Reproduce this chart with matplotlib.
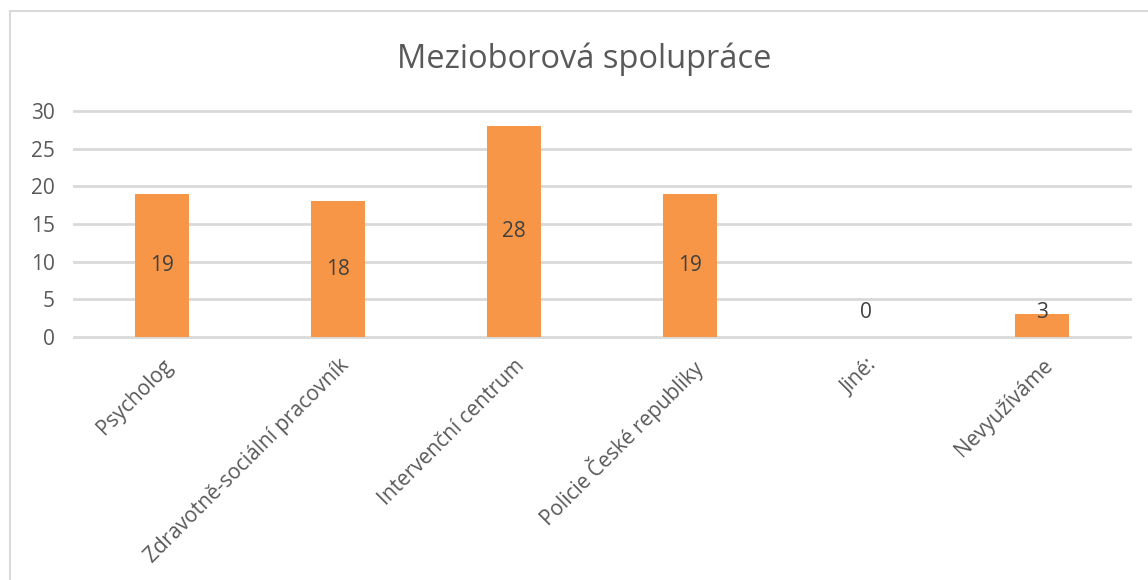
import matplotlib
matplotlib.use("Agg")
import matplotlib.pyplot as plt
from matplotlib.lines import Line2D

# data
categories = ["Psycholog", "Zdravotně-sociální pracovník", "Intervenční centrum",
              "Policie České republiky", "Jiné:", "Nevyužíváme"]
values = [19, 18, 28, 19, 0, 3]

bar_color = "#F79646"
text_color = "#595959"
grid_color = "#D9D9D9"

plt.rcParams["font.family"] = ["Open Sans", "DejaVu Sans"]

fig = plt.figure(figsize=(11.48, 5.8), dpi=100)
ax = fig.add_axes([0.0645, 0.419, 0.92, 0.3897])

x = range(len(categories))
ax.bar(x, values, width=0.31, color=bar_color, zorder=3)

# data labels in the middle of the bars (small bars get a minimum offset)
for xi, v in zip(x, values):
    y = v / 2 if v / 2 > 3.3 else 3.3
    ax.text(xi, y, str(v), ha="center", va="center", fontsize=15, color="#404040", zorder=4)

ax.set_xlim(-0.5, len(categories) - 0.5)
ax.set_ylim(0, 30)
ax.set_yticks(range(0, 31, 5))
ax.yaxis.grid(True, color=grid_color, linewidth=2)
for gl in ax.get_ygridlines():
    gl.set_clip_on(False)
ax.set_axisbelow(True)
for s in ax.spines.values():
    s.set_visible(False)
ax.tick_params(length=0)
ax.tick_params(axis="y", labelsize=15, labelcolor=text_color, pad=14)
ax.set_xticks(list(x))
ax.set_xticklabels(categories, rotation=45, ha="right", rotation_mode="anchor",
                   fontsize=15, color=text_color)
ax.tick_params(axis="x", pad=13)

fig.text(0.509, 0.898, "Mezioborová spolupráce", ha="center", va="center",
         fontsize=23.5, color=text_color)

# chart area border (left and top visible)
fig.add_artist(Line2D([10 / 1148, 10 / 1148], [0, 1 - 11 / 580], color=grid_color,
                      linewidth=1.5, transform=fig.transFigure))
fig.add_artist(Line2D([10 / 1148, 1], [1 - 11 / 580, 1 - 11 / 580], color=grid_color,
                      linewidth=1.5, transform=fig.transFigure))

fig.savefig("out.png", dpi=100)
